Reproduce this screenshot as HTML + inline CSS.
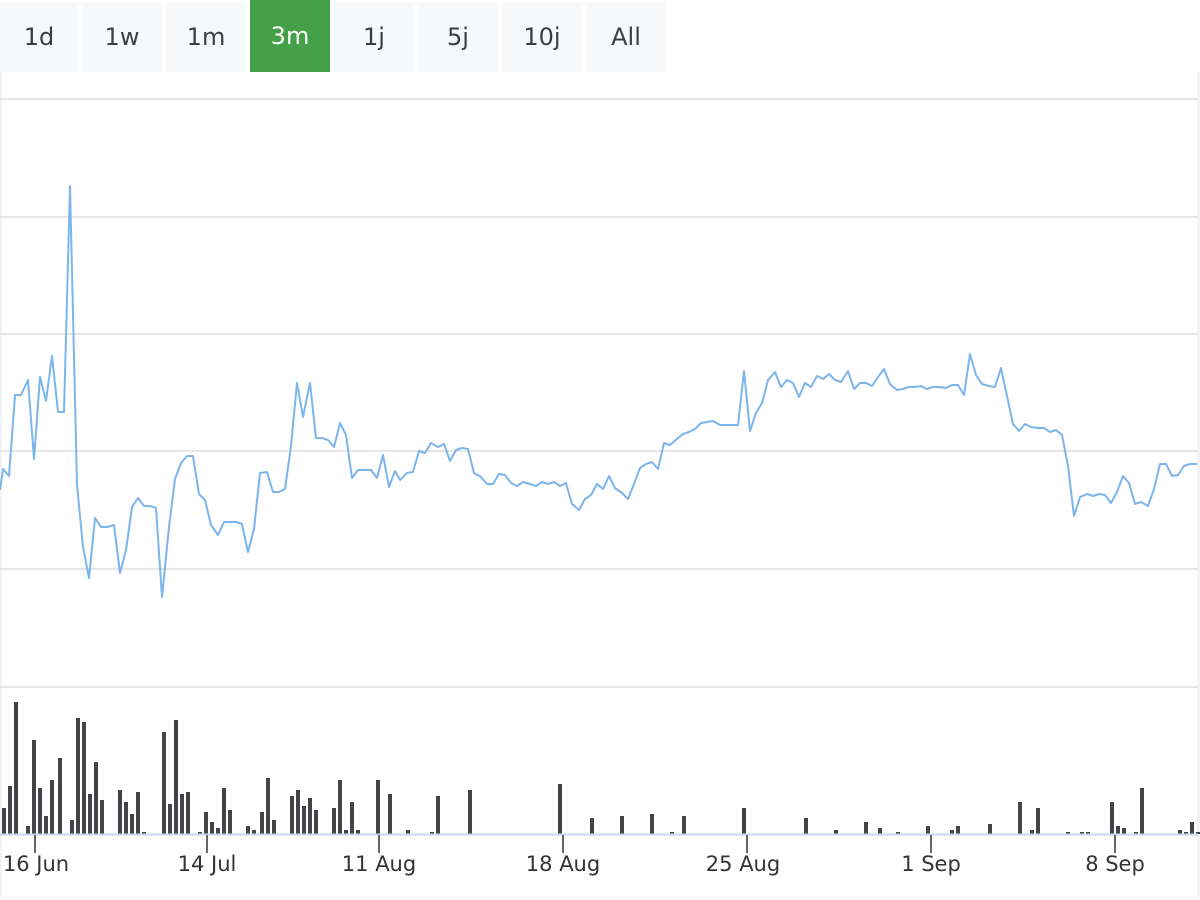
<!DOCTYPE html>
<html><head><meta charset="utf-8"><style>
html,body{margin:0;padding:0;background:#fff;width:1200px;height:900px;overflow:hidden}
.btn{position:absolute;top:2px;height:70px;width:80px;background:#f7f8fa;color:#3a3f44;font:24px "DejaVu Sans",sans-serif;text-align:center;line-height:70px}
.act{background:#43a047;color:#fff;top:0;height:72px;line-height:72px}
svg{position:absolute;left:0;top:0}
</style></head><body>
<svg width="1200" height="900">
<rect x="0" y="72" width="2" height="828" fill="#f2f3f5"/>
<rect x="1197" y="72" width="3" height="828" fill="#f2f3f5"/>
<rect x="0" y="896" width="1200" height="4" fill="#f7f8fa"/>
<g stroke="#e6e6e6" stroke-width="2">
<line x1="0" y1="99" x2="1198" y2="99"/><line x1="0" y1="217" x2="1198" y2="217"/>
<line x1="0" y1="334" x2="1198" y2="334"/><line x1="0" y1="451" x2="1198" y2="451"/>
<line x1="0" y1="569" x2="1198" y2="569"/><line x1="0" y1="687" x2="1198" y2="687"/>
</g>
<polyline fill="none" stroke="#7cb5ec" stroke-width="2" stroke-linejoin="round" points="0,490 3,469 9,476 15,395 21,395 28,380 34,459 40,377 46,401 52,356 58,412 64,412 70,186 77,485 83,547 89,578 95,518 101,527 107,527 114,525 120,573 126,550 132,507 138,498 144,506 150,506 156,508 162,597 169,527 175,479 181,463 187,456 193,456 199,494 205,500 211,525 218,535 224,522 230,522 236,522 242,524 248,552 254,529 260,473 267,472 273,492 279,492 285,489 291,446 297,383 303,417 310,383 316,438 322,438 328,440 334,447 340,423 346,435 352,478 358,470 365,470 371,470 377,478 383,455 389,487 395,471 400,480 407,473 413,472 419,451 425,453 431,443 438,447 444,444 450,461 456,450 462,448 468,449 474,473 481,477 487,484 493,484 499,474 505,475 511,483 517,486 523,482 530,484 536,486 542,482 548,484 554,482 560,486 566,483 572,504 579,510 585,499 591,495 597,484 603,489 609,476 615,488 622,493 628,499 634,484 640,468 646,464 652,462 658,469 664,443 670,445 677,439 683,434 689,432 695,429 701,423 707,422 713,421 720,425 726,425 732,425 738,425 744,371 750,431 756,413 762,403 768,380 775,372 781,387 787,380 793,383 799,397 805,383 811,387 817,376 823,379 829,374 835,380 841,382 848,371 854,389 860,383 866,383 872,386 878,377 884,369 890,384 897,390 903,389 909,387 915,387 921,386 927,389 933,387 939,387 946,388 952,385 958,385 964,395 970,354 976,375 982,384 989,386 995,387 1001,368 1007,396 1013,424 1019,431 1025,424 1031,427 1038,428 1044,428 1050,432 1056,430 1062,435 1068,466 1074,516 1080,497 1087,494 1093,496 1099,494 1105,495 1111,503 1117,492 1123,476 1129,483 1135,504 1141,502 1148,506 1154,489 1160,464 1166,464 1172,476 1178,475 1184,466 1190,464 1197,464"/>
<g fill="#434348">
<rect x="2" y="808" width="4" height="26"/><rect x="8" y="786" width="4" height="48"/><rect x="14" y="702" width="4" height="132"/><rect x="26" y="826" width="4" height="8"/><rect x="32" y="740" width="4" height="94"/><rect x="38" y="788" width="4" height="46"/><rect x="44" y="816" width="4" height="18"/><rect x="50" y="780" width="4" height="54"/><rect x="58" y="758" width="4" height="76"/><rect x="70" y="820" width="4" height="14"/><rect x="76" y="718" width="4" height="116"/><rect x="82" y="722" width="4" height="112"/><rect x="88" y="794" width="4" height="40"/><rect x="94" y="762" width="4" height="72"/><rect x="100" y="800" width="4" height="34"/><rect x="118" y="790" width="4" height="44"/><rect x="124" y="802" width="4" height="32"/><rect x="130" y="814" width="4" height="20"/><rect x="136" y="792" width="4" height="42"/><rect x="142" y="832" width="4" height="2"/><rect x="162" y="732" width="4" height="102"/><rect x="168" y="804" width="4" height="30"/><rect x="174" y="720" width="4" height="114"/><rect x="180" y="794" width="4" height="40"/><rect x="186" y="792" width="4" height="42"/><rect x="198" y="832" width="4" height="2"/><rect x="204" y="812" width="4" height="22"/><rect x="210" y="822" width="4" height="12"/><rect x="216" y="828" width="4" height="6"/><rect x="222" y="788" width="4" height="46"/><rect x="228" y="810" width="4" height="24"/><rect x="246" y="826" width="4" height="8"/><rect x="252" y="830" width="4" height="4"/><rect x="260" y="812" width="4" height="22"/><rect x="266" y="778" width="4" height="56"/><rect x="272" y="820" width="4" height="14"/><rect x="290" y="796" width="4" height="38"/><rect x="296" y="790" width="4" height="44"/><rect x="302" y="806" width="4" height="28"/><rect x="308" y="798" width="4" height="36"/><rect x="314" y="810" width="4" height="24"/><rect x="332" y="808" width="4" height="26"/><rect x="338" y="780" width="4" height="54"/><rect x="344" y="830" width="4" height="4"/><rect x="350" y="802" width="4" height="32"/><rect x="356" y="830" width="4" height="4"/><rect x="376" y="780" width="4" height="54"/><rect x="388" y="794" width="4" height="40"/><rect x="406" y="830" width="4" height="4"/><rect x="430" y="832" width="4" height="2"/><rect x="436" y="796" width="4" height="38"/><rect x="468" y="790" width="4" height="44"/><rect x="558" y="784" width="4" height="50"/><rect x="590" y="818" width="4" height="16"/><rect x="620" y="816" width="4" height="18"/><rect x="650" y="814" width="4" height="20"/><rect x="670" y="832" width="4" height="2"/><rect x="682" y="816" width="4" height="18"/><rect x="742" y="808" width="4" height="26"/><rect x="804" y="818" width="4" height="16"/><rect x="834" y="830" width="4" height="4"/><rect x="864" y="822" width="4" height="12"/><rect x="878" y="828" width="4" height="6"/><rect x="896" y="832" width="4" height="2"/><rect x="926" y="826" width="4" height="8"/><rect x="950" y="830" width="4" height="4"/><rect x="956" y="826" width="4" height="8"/><rect x="988" y="824" width="4" height="10"/><rect x="1018" y="802" width="4" height="32"/><rect x="1030" y="830" width="4" height="4"/><rect x="1036" y="808" width="4" height="26"/><rect x="1066" y="832" width="4" height="2"/><rect x="1080" y="832" width="4" height="2"/><rect x="1086" y="832" width="4" height="2"/><rect x="1110" y="802" width="4" height="32"/><rect x="1116" y="826" width="4" height="8"/><rect x="1122" y="828" width="4" height="6"/><rect x="1134" y="832" width="4" height="2"/><rect x="1140" y="788" width="4" height="46"/><rect x="1178" y="830" width="4" height="4"/><rect x="1184" y="832" width="4" height="2"/><rect x="1190" y="822" width="4" height="12"/><rect x="1196" y="832" width="4" height="2"/>
</g>
<line x1="0" y1="834.5" x2="1198" y2="834.5" stroke="#ccd6eb" stroke-width="2"/>
<g stroke="#333" stroke-width="1.5">
<line x1="35" y1="835" x2="35" y2="853"/><line x1="207" y1="835" x2="207" y2="853"/><line x1="379" y1="835" x2="379" y2="853"/><line x1="563" y1="835" x2="563" y2="853"/><line x1="747" y1="835" x2="747" y2="853"/><line x1="931" y1="835" x2="931" y2="853"/><line x1="1115" y1="835" x2="1115" y2="853"/>
</g>
<g font-family="DejaVu Sans, sans-serif" font-size="21" fill="#333" text-anchor="middle">
<text x="36" y="871">16 Jun</text><text x="207" y="871">14 Jul</text><text x="379" y="871">11 Aug</text><text x="563" y="871">18 Aug</text><text x="743" y="871">25 Aug</text><text x="931" y="871">1 Sep</text><text x="1115" y="871">8 Sep</text>
</g>
</svg>
<div class="btn" style="left:0;width:78px">1d</div>
<div class="btn" style="left:82px">1w</div>
<div class="btn" style="left:166px">1m</div>
<div class="btn act" style="left:250px">3m</div>
<div class="btn" style="left:334px">1j</div>
<div class="btn" style="left:418px">5j</div>
<div class="btn" style="left:502px">10j</div>
<div class="btn" style="left:586px">All</div>
</body></html>
